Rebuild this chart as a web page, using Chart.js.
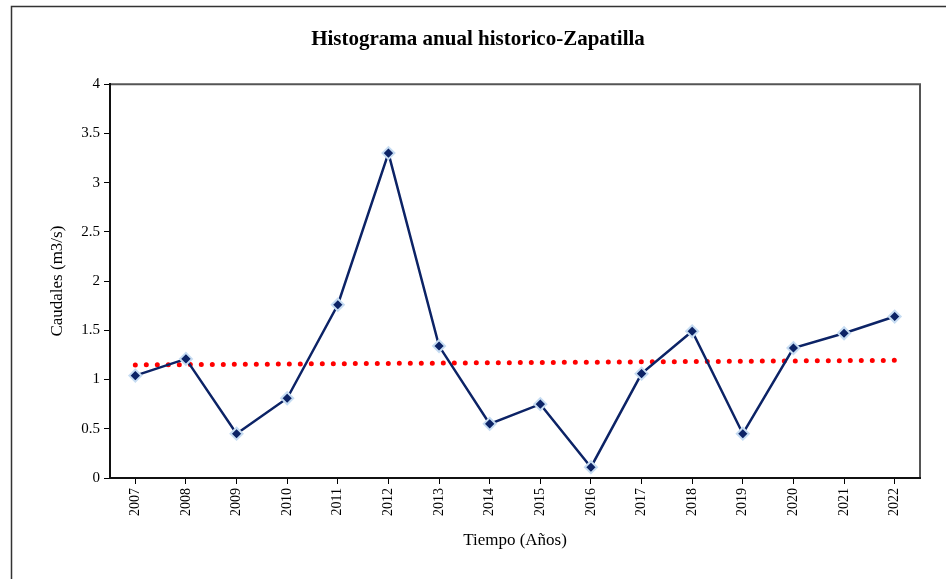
<!DOCTYPE html>
<html>
<head>
<meta charset="utf-8">
<script src="https://cdn.jsdelivr.net/npm/chart.js@4"></script>
<style>
  body { margin: 0; background: #fff; overflow: hidden; }
  #wrap { position: absolute; left: 0; top: 0; width: 946px; height: 579px; overflow: hidden; }
</style>
</head>
<body>
<div id="wrap"><canvas id="chart" width="956" height="579"></canvas></div>
<script>
const years = ['2007', '2008', '2009', '2010', '2011', '2012', '2013', '2014',
               '2015', '2016', '2017', '2018', '2019', '2020', '2021', '2022'];
const caudales = [1.04, 1.21, 0.45, 0.81, 1.76, 3.30, 1.34, 0.55,
                  0.75, 0.11, 1.06, 1.49, 0.45, 1.32, 1.47, 1.64];
const yTicks = [0, 0.5, 1, 1.5, 2, 2.5, 3, 3.5, 4];

// linear trend line (least squares) like the spreadsheet trendline
function trend(vals) {
  const n = vals.length;
  const mx = (n - 1) / 2;
  const my = vals.reduce((a, b) => a + b, 0) / n;
  let sxy = 0, sxx = 0;
  vals.forEach((v, i) => { sxy += (i - mx) * (v - my); sxx += (i - mx) * (i - mx); });
  const b = sxy / sxx;
  return vals.map((v, i) => my + b * (i - mx));
}

const serif = '"Liberation Serif", "Times New Roman", serif';

const framePlugin = {
  id: 'frame',
  beforeDraw(chart) {
    const ctx = chart.ctx;
    const a = chart.chartArea;
    ctx.save();
    ctx.fillStyle = '#fff';
    ctx.fillRect(0, 0, chart.width, chart.height);
    ctx.strokeStyle = '#333';
    ctx.lineWidth = 1.5;
    ctx.strokeRect(11.5, 6.5, 2000, 2000);
    ctx.strokeStyle = '#555';
    ctx.lineWidth = 2;
    ctx.beginPath();
    ctx.moveTo(a.left, a.top);
    ctx.lineTo(a.right, a.top);
    ctx.lineTo(a.right, a.bottom);
    ctx.stroke();
    ctx.restore();
  }
};

new Chart(document.getElementById('chart'), {
  type: 'line',
  data: {
    labels: years,
    datasets: [{
      label: 'Caudal',
      data: caudales,
      borderColor: '#0c2366',
      borderWidth: 2.5,
      pointStyle: 'rectRot',
      pointRadius: 6,
      pointBackgroundColor: '#0c2366',
      pointBorderColor: '#c6dcf2',
      pointBorderWidth: 2,
      tension: 0,
      order: 1
    }, {
      label: 'Tendencia',
      data: trend(caudales),
      borderColor: '#ff0000',
      borderWidth: 5,
      borderDash: [0, 11],
      borderCapStyle: 'round',
      pointRadius: 0,
      tension: 0,
      order: 2
    }]
  },
  options: {
    responsive: false,
    animation: false,
    layout: { padding: 0 },
    plugins: {
      legend: { display: false },
      tooltip: { enabled: false },
      title: {
        display: true,
        text: 'Histograma anual historico-Zapatilla',
        color: '#000',
        font: { family: serif, size: 21, weight: 'bold', lineHeight: 1.2 },
        padding: { top: 27, bottom: 32 }
      }
    },
    scales: {
      x: {
        offset: true,
        grid: { display: true, drawOnChartArea: false, color: '#000', tickLength: 6, offset: false },
        border: { color: '#111', width: 2 },
        ticks: { color: '#000', font: { family: serif, size: 14 }, maxRotation: 90, minRotation: 90, padding: 4, autoSkip: false },
        title: { display: true, text: 'Tiempo (Años)', color: '#000', font: { family: serif, size: 17 }, padding: { top: 0, bottom: 28 } },
        afterFit(scale) { scale.height = 101; }
      },
      y: {
        min: 0,
        max: 4,
        afterBuildTicks(scale) { scale.ticks = yTicks.map(v => ({ value: v })); },
        grid: { display: true, drawOnChartArea: false, color: '#000', tickLength: 6 },
        border: { color: '#111', width: 2 },
        ticks: { color: '#000', font: { family: serif, size: 15 }, padding: 4, callback: v => String(v) },
        title: { display: true, text: 'Caudales (m3/s)', color: '#000', font: { family: serif, size: 17 }, padding: { top: 47, bottom: 0 } },
        afterFit(scale) { scale.width = 110; }
      },
      // empty right-hand strip so the plot ends where the reference does
      yPad: {
        position: 'right',
        min: 0,
        max: 4,
        grid: { display: false },
        border: { display: false },
        ticks: { display: false },
        afterFit(scale) { scale.width = 36; }
      }
    }
  },
  plugins: [framePlugin]
});
</script>
</body>
</html>
